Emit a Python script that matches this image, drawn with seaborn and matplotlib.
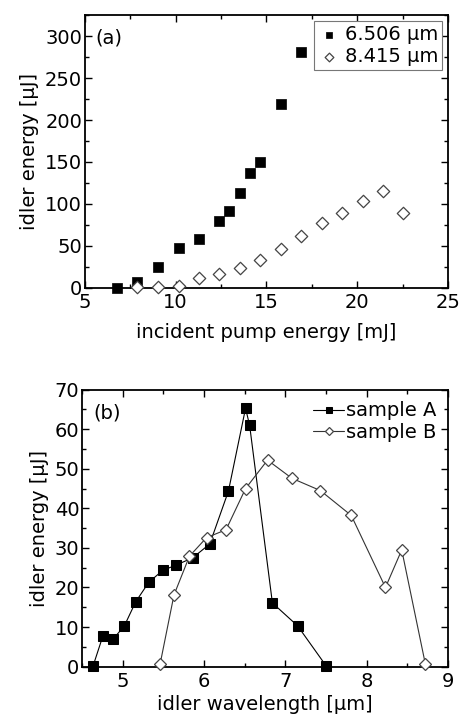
import numpy as np
import pandas as pd
import matplotlib
matplotlib.use("Agg")
import matplotlib.pyplot as plt
import seaborn as sns
from matplotlib.ticker import MultipleLocator

# ---- data panel (a)
pumpA = [6.78, 7.9, 9.04, 10.16, 11.28, 12.41, 12.96, 13.53, 14.1, 14.65, 15.79, 16.9]
idlerA = [0.0, 6.8, 24.6, 47, 57.6, 80, 92, 113, 137, 150, 219, 281]
pumpB = [7.9, 9.04, 10.16, 11.28, 12.41, 13.53, 14.65, 15.79, 16.9, 18.05, 19.17, 20.3, 21.42, 22.54]
idlerB = [0.5, 1.0, 2.0, 11.5, 16, 23.4, 33.4, 45.7, 61.6, 76.7, 88.6, 103.3, 114.8, 88.6]

# ---- data panel (b)
wlA = [4.636, 4.757, 4.88, 5.02, 5.16, 5.32, 5.49, 5.66, 5.86, 6.07, 6.30, 6.51, 6.56, 6.84, 7.15, 7.50]
enA = [0.2, 7.8, 6.9, 10.3, 16.4, 21.3, 24.3, 25.7, 27.5, 31.0, 44.4, 65.3, 61.0, 16.1, 10.3, 0.2]
wlB = [5.46, 5.63, 5.82, 6.03, 6.27, 6.51, 6.78, 7.08, 7.43, 7.81, 8.23, 8.43, 8.72]
enB = [0.7, 18.1, 27.9, 32.6, 34.6, 45.0, 52.2, 47.6, 44.5, 38.2, 20.0, 29.5, 0.7]

sns.set_theme(style="ticks")
plt.rcParams['font.family'] = ['DejaVu Sans']
plt.rcParams['text.color'] = 'black'
plt.rcParams['axes.labelcolor'] = 'black'
FS = 14

fig = plt.figure(figsize=(4.61, 7.23), dpi=100)
ax1 = fig.add_axes([0.184, 0.602, 0.788, 0.377])
ax2 = fig.add_axes([0.178, 0.078, 0.794, 0.383])

# panel (a)
sns.scatterplot(x=pumpA, y=idlerA, ax=ax1, marker='s', color='black', s=45,
                edgecolor='black', linewidth=0.5, label='6.506 µm', clip_on=False, zorder=3)
sns.scatterplot(x=pumpB, y=idlerB, ax=ax1, marker='D', color='white', s=40,
                edgecolor='#444444', linewidth=0.9, label='8.415 µm', clip_on=False, zorder=3)
ax1.set_xlim(5, 25)
ax1.set_ylim(0, 325)
ax1.xaxis.set_major_locator(MultipleLocator(5))
ax1.xaxis.set_minor_locator(MultipleLocator(2.5))
ax1.yaxis.set_major_locator(MultipleLocator(50))
ax1.yaxis.set_minor_locator(MultipleLocator(25))
ax1.set_xlabel('incident pump energy [mJ]', fontsize=FS, labelpad=8)
ax1.set_ylabel('idler energy [µJ]', fontsize=FS, labelpad=4)
ax1.text(0.03, 0.95, '(a)', transform=ax1.transAxes, fontsize=FS, va='top', ha='left')
leg1 = ax1.legend(loc='upper right', fontsize=FS, frameon=True, fancybox=False,
                  edgecolor='#777777', framealpha=1, borderaxespad=0.3, markerscale=0.7,
                  handletextpad=0.2, borderpad=0.2, labelspacing=0.15, handlelength=1.2)
leg1.get_frame().set_linewidth(0.8)

# panel (b)
sns.lineplot(x=wlA, y=enA, ax=ax2, color='black', lw=0.8, marker='s', markersize=6.5,
             markerfacecolor='black', markeredgecolor='black', sort=False,
             label='sample A', clip_on=False, zorder=3)
sns.lineplot(x=wlB, y=enB, ax=ax2, color='#333333', lw=0.8, marker='D', markersize=6.5,
             markerfacecolor='white', markeredgecolor='#444444', markeredgewidth=0.9,
             sort=False, label='sample B', clip_on=False, zorder=3)
ax2.set_xlim(4.5, 9)
ax2.set_ylim(0, 70)
ax2.xaxis.set_major_locator(MultipleLocator(1))
ax2.xaxis.set_minor_locator(MultipleLocator(0.5))
ax2.yaxis.set_major_locator(MultipleLocator(10))
ax2.yaxis.set_minor_locator(MultipleLocator(5))
ax2.set_xlabel('idler wavelength [µm]', fontsize=FS, labelpad=3)
ax2.set_ylabel('idler energy [µJ]', fontsize=FS, labelpad=4)
ax2.text(0.03, 0.95, '(b)', transform=ax2.transAxes, fontsize=FS, va='top', ha='left')
ax2.legend(loc='upper right', fontsize=FS, frameon=False, borderaxespad=0.2, markerscale=0.7,
           handletextpad=0.1, handlelength=1.6, labelspacing=0.15)

for ax in (ax1, ax2):
    for sp in ax.spines.values():
        sp.set_visible(True)
        sp.set_linewidth(1.3)
        sp.set_color('black')
    ax.tick_params(which='both', direction='in', top=True, right=True,
                   labelsize=FS, colors='black', width=1.0)
    ax.tick_params(axis='y', pad=2)
    ax.tick_params(axis='x', pad=4)
    ax.tick_params(which='major', length=5)
    ax.tick_params(which='minor', length=3)
    ax.grid(False)

fig.savefig('out.png', dpi=100)
